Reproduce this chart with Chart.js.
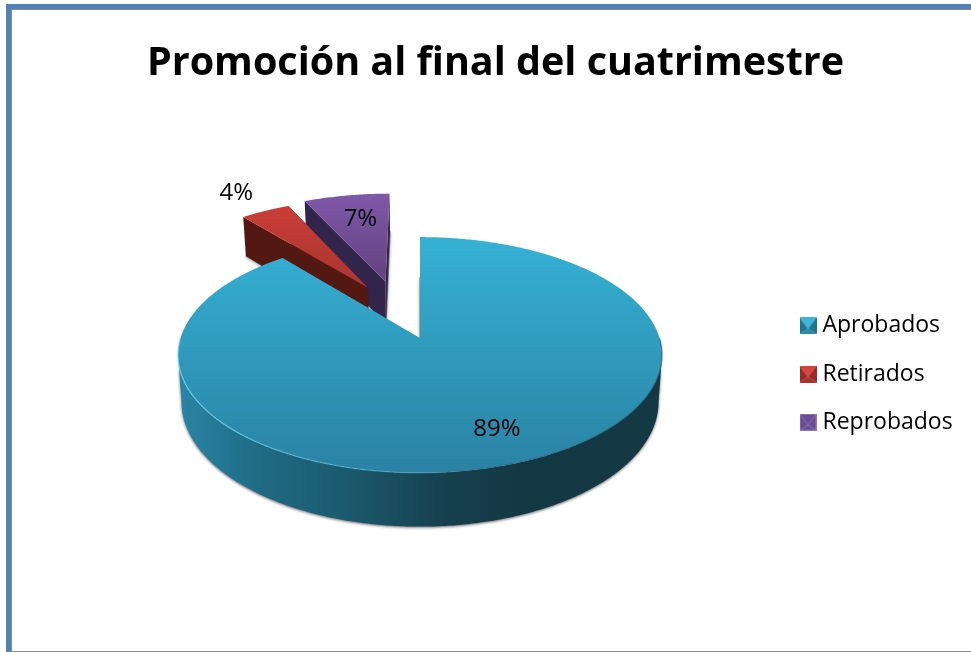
<!DOCTYPE html>
<html lang="es">
<head>
<meta charset="utf-8">
<title>Promoción al final del cuatrimestre</title>
<script src="https://cdn.jsdelivr.net/npm/chart.js@4"></script>
<style>
html,body{margin:0;padding:0;background:#fff;width:971px;height:652px;overflow:hidden}
.f{position:absolute}
#c{position:absolute;left:0;top:0}
</style>
</head>
<body>
<div class="f" style="left:6px;top:4px;width:965px;height:5px;background:#4f81bd"></div>
<div class="f" style="left:11px;top:9px;width:960px;height:1px;background:#8c8c8c"></div>
<div class="f" style="left:6px;top:4px;width:5px;height:648px;background:#4f81bd"></div>
<div class="f" style="left:11px;top:9px;width:1px;height:643px;background:#8c8c8c"></div>
<div class="f" style="left:11px;top:651px;width:960px;height:1px;background:#8c8c8c"></div>
<canvas id="c" width="971" height="652"></canvas>
<script>
const titleText = 'Promoción al final del cuatrimestre';
const categories = ['Aprobados', 'Retirados', 'Reprobados'];
const values = [89, 4, 7];
const tickLabels = ['89%', '4%', '7%'];

const sliceColors = ['#2f9bbe', '#b93a34', '#71509a'];
const topFaceStops = [['#35b1d4', '#2a82a4'], ['#cb3d37', '#a83530'], ['#7f58a9', '#62427e']];
const wallColors = ['#1a5a6e', '#541812', '#33244b'];
const explode = [[0, 0], [-0.232, -0.465], [-0.155, -0.525]];
const labelAnchor = [[0.752, 9, 0], [1.28, -4, 1], [0.75, 5, 4]];

const PERSPECTIVE = 0.144, FLATTEN = 0.482, DEPTH = 46, BASE_SCALE = 0.9855;
const FONT = '"Open Sans", Lato, sans-serif';

function swatch(i) {
  const s = 17, cv = document.createElement('canvas');
  cv.width = s; cv.height = s;
  const g = cv.getContext('2d');
  const tri = (pts, col) => {
    g.fillStyle = col; g.beginPath();
    pts.forEach((p, n) => n ? g.lineTo(p[0], p[1]) : g.moveTo(p[0], p[1]));
    g.closePath(); g.fill();
  };
  const C = [s / 2, s * 0.66];
  const sets = [
    ['#3ab6d8', '#1f7690', '#1f7690', '#2a8aa8'],
    ['#d5433c', '#9a2a26', '#9a2a26', '#a9302b'],
    ['#6c4b95', '#6c4b95', '#6c4b95', '#6c4b95']
  ][i];
  tri([[0, s], [s, s], C], sets[3]);
  tri([[0, 0], [0, s], C], sets[1]);
  tri([[s, 0], [s, s], C], sets[2]);
  tri([[0, 0], [s, 0], C], sets[0]);
  if (i === 2) { g.strokeStyle = '#9478bb'; g.lineWidth = 1; g.strokeRect(0.5, 0.5, s - 1, s - 1); }
  return cv;
}
const swatches = categories.map((_, i) => swatch(i));

const pie3d = {
  id: 'pie3d',
  afterLayout(chart) {
    const lg = chart.legend, tb = chart.titleBlock;
    const w = lg.right - lg.left;
    lg.left = 779.7; lg.right = 779.7 + w;
    lg.top += 61; lg.bottom += 61;
    const tw = tb.right - tb.left;
    tb.left = 495.5 - tw / 2; tb.right = 495.5 + tw / 2;
  },
  beforeDatasetsDraw(chart) {
    const ctx = chart.ctx, arcs = chart.getDatasetMeta(0).data;
    const top = (el, i) => (u, v) => {
      const uu = u + explode[i][0], vv = v + explode[i][1], w = 1 - PERSPECTIVE * vv;
      return [el.x + el.outerRadius * uu / w, el.y + el.outerRadius * FLATTEN * vv / w, w];
    };
    const low = (el, i) => (u, v) => {
      const p = top(el, i)(u, v);
      return [el.x + (p[0] - el.x) * BASE_SCALE, p[1] + DEPTH / p[2]];
    };
    const trace = (pts, close) => {
      ctx.beginPath();
      pts.forEach((p, n) => n ? ctx.lineTo(p[0], p[1]) : ctx.moveTo(p[0], p[1]));
      if (close) ctx.closePath();
    };
    const arcPts = (f, a0, a1) => {
      const n = Math.max(2, Math.ceil(Math.abs(a1 - a0) / 0.01)), out = [];
      for (let j = 0; j <= n; j++) {
        const a = a0 + (a1 - a0) * j / n;
        out.push(f(Math.cos(a), Math.sin(a)));
      }
      return out;
    };
    const shadowOn = () => {
      ctx.shadowColor = 'rgba(0,0,0,0.6)'; ctx.shadowBlur = 3; ctx.shadowOffsetX = 0; ctx.shadowOffsetY = 1;
    };
    const shadowOff = () => { ctx.shadowColor = 'transparent'; ctx.shadowBlur = 0; ctx.shadowOffsetY = 0; };

    [2, 1, 0].forEach(i => {
      const el = arcs[i], T = top(el, i), L = low(el, i);
      const a0 = el.startAngle, a1 = el.endAngle;
      const at = a => [Math.cos(a), Math.sin(a)];
      const radial = a => {
        const d = at(a);
        return [T(d[0], d[1]), T(0, 0), L(0, 0), L(d[0], d[1])];
      };
      const upper = arcPts(T, a0, a1);
      ctx.lineWidth = 1.2;
      ctx.strokeStyle = 'rgba(125,125,125,0.9)';
      shadowOn();
      if (i === 0) {
        const d = at(a0);
        trace([L(d[0], d[1]), T(0, 0)]); ctx.stroke();
      } else {
        const d0 = at(a0), d1 = at(a1);
        trace([L(d0[0], d0[1]), L(0, 0), L(d1[0], d1[1])]); ctx.stroke();
      }
      if (i === 0) {
        const g = ctx.createLinearGradient(el.x - el.outerRadius, 0, el.x + el.outerRadius, 0);
        g.addColorStop(0, '#2a84a4');
        g.addColorStop(0.17, '#1f6a83');
        g.addColorStop(0.34, '#1b5a6f');
        g.addColorStop(0.56, '#163f4d');
        g.addColorStop(0.72, '#143843');
        g.addColorStop(1, '#143944');
        ctx.fillStyle = g;
        const e = Math.asin(PERSPECTIVE);
        const u = arcPts(T, e, Math.PI - e), l = arcPts(L, e, Math.PI - e).reverse();
        trace(u.concat(l), true); ctx.fill();
        shadowOff();
      } else {
        shadowOff();
        ctx.fillStyle = wallColors[i];
        trace(radial(a1), true); ctx.fill();
        trace(radial(a0), true); ctx.fill();
      }

      const face = [T(0, 0)].concat(upper);
      const ys = face.map(p => p[1]);
      const grad = ctx.createLinearGradient(0, Math.min(...ys), 0, Math.max(...ys));
      grad.addColorStop(0, topFaceStops[i][0]);
      grad.addColorStop(1, topFaceStops[i][1]);
      ctx.fillStyle = grad;
      trace(face, true); ctx.fill();

      if (i === 0) {
        const rim = ctx.createLinearGradient(el.x - el.outerRadius, 0, el.x + el.outerRadius, 0);
        rim.addColorStop(0, 'rgba(110,215,240,0.8)');
        rim.addColorStop(0.5, 'rgba(90,195,225,0.3)');
        rim.addColorStop(0.62, 'rgba(20,70,90,0.25)');
        rim.addColorStop(1, 'rgba(20,70,90,0.55)');
        ctx.strokeStyle = rim;
        ctx.lineWidth = 1.3;
        trace(arcPts(T, 0, Math.PI));
        ctx.stroke();
      }
    });

    ctx.save();
    ctx.fillStyle = '#000';
    ctx.font = '24px ' + FONT;
    ctx.textAlign = 'center';
    ctx.textBaseline = 'middle';
    arcs.forEach((el, i) => {
      const m = (el.startAngle + el.endAngle) / 2, a = labelAnchor[i];
      const p = top(el, i)(a[0] * Math.cos(m), a[0] * Math.sin(m));
      ctx.fillText(tickLabels[i], p[0] + a[1], p[1] + a[2]);
    });
    ctx.restore();
    return false;
  }
};

new Chart(document.getElementById('c'), {
  type: 'pie',
  data: {
    labels: categories,
    datasets: [{ data: values, backgroundColor: sliceColors, radius: 239.5, borderWidth: 0 }]
  },
  plugins: [pie3d],
  options: {
    responsive: false,
    animation: false,
    events: [],
    layout: { padding: { left: 52, right: 0, top: 40, bottom: 66 } },
    plugins: {
      tooltip: { enabled: false },
      title: {
        display: true,
        text: titleText,
        color: '#000',
        font: { family: FONT, size: 39.5, weight: 'bold', lineHeight: 1.2 },
        padding: { top: 0, bottom: 2.6 }
      },
      legend: {
        display: true,
        position: 'right',
        labels: {
          usePointStyle: true,
          pointStyleWidth: 6,
          padding: 25.3,
          color: '#000',
          font: { family: FONT, size: 23 },
          generateLabels: () => categories.map((t, i) => ({
            text: t, fillStyle: sliceColors[i], strokeStyle: sliceColors[i],
            lineWidth: 0, pointStyle: swatches[i], hidden: false, index: i
          }))
        }
      }
    }
  }
});
</script>
</body>
</html>
